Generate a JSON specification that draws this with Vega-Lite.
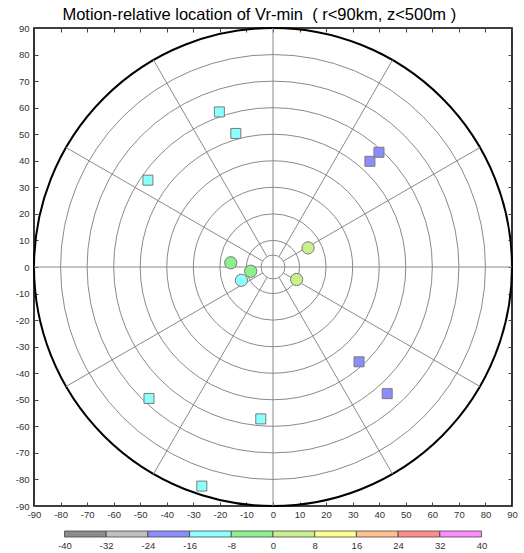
{
  "$schema": "https://vega.github.io/schema/vega-lite/v6.json",
  "padding": {"left": 14, "top": 5, "right": 0, "bottom": 0},
  "background": "white",
  "bounds": "flush",
  "center": true,
  "spacing": 25,
  "resolve": {"scale": {"x": "independent", "y": "independent", "color": "shared"}},
  "config": {
    "view": {"stroke": "black", "strokeWidth": 1.6},
    "font": "Liberation Sans",
    "axis": {
      "labelFont": "Liberation Sans",
      "labelFontSize": 9.5,
      "labelColor": "#333333",
      "tickColor": "#444444",
      "grid": false,
      "domain": false,
      "title": null,
      "labelExpr": "'' + datum.value"
    }
  },
  "vconcat": [
    {
      "width": 478,
      "height": 478,
      "title": {
        "text": "Motion-relative location of Vr-min\u00a0 ( r<90km, z<500m )",
        "font": "Liberation Sans",
        "fontSize": 16.5,
        "fontWeight": "normal",
        "color": "black",
        "anchor": "middle",
        "frame": "bounds",
        "dx": -7,
        "offset": 0
      },
      "resolve": {
        "axis": {"x": "independent", "y": "independent"},
        "scale": {"size": "independent"}
      },
      "layer": [
        {
          "data": {"values": [{"r": 4.5}, {"r": 10}, {"r": 20}, {"r": 30}, {"r": 40}, {"r": 50}, {"r": 60}, {"r": 70}, {"r": 80}]},
          "mark": {"type": "point", "shape": "circle", "filled": false, "opacity": 1, "stroke": "#8a8a8a", "strokeWidth": 1},
          "encoding": {
            "x": {"datum": 0, "type": "quantitative", "scale": {"domain": [-90, 90], "nice": false, "zero": false}, "axis": null},
            "y": {"datum": 0, "type": "quantitative", "scale": {"domain": [-90, 90], "nice": false, "zero": false}, "axis": null},
            "size": {"field": "r", "type": "quantitative", "scale": {"type": "pow", "exponent": 2, "domain": [0, 90], "range": [0, 228484], "zero": true, "nice": false}, "legend": null}
          }
        },
        {
          "data": {"values": [{"r": 90}]},
          "mark": {"type": "point", "shape": "circle", "filled": false, "opacity": 1, "stroke": "black", "strokeWidth": 2},
          "encoding": {
            "x": {"datum": 0, "type": "quantitative", "axis": null},
            "y": {"datum": 0, "type": "quantitative", "axis": null},
            "size": {"field": "r", "type": "quantitative", "scale": {"type": "pow", "exponent": 2, "domain": [0, 90], "range": [0, 228484], "zero": true, "nice": false}, "legend": null}
          }
        },
        {
          "data": {"values": [
            {"xa": -90, "ya": 0, "xb": 90, "yb": 0},
            {"xa": 0, "ya": -90, "xb": 0, "yb": 90},
            {"xa": 3.90, "ya": 2.25, "xb": 77.94, "yb": 45},
            {"xa": 2.25, "ya": 3.90, "xb": 45, "yb": 77.94},
            {"xa": -2.25, "ya": 3.90, "xb": -45, "yb": 77.94},
            {"xa": -3.90, "ya": 2.25, "xb": -77.94, "yb": 45},
            {"xa": -3.90, "ya": -2.25, "xb": -77.94, "yb": -45},
            {"xa": -2.25, "ya": -3.90, "xb": -45, "yb": -77.94},
            {"xa": 2.25, "ya": -3.90, "xb": 45, "yb": -77.94},
            {"xa": 3.90, "ya": -2.25, "xb": 77.94, "yb": -45}
          ]},
          "mark": {"type": "rule", "stroke": "#8a8a8a", "strokeWidth": 1},
          "encoding": {
            "x": {"field": "xa", "type": "quantitative",
                  "scale": {"domain": [-90, 90], "nice": false, "zero": false},
                  "axis": {"orient": "bottom", "values": [-90,-80,-70,-60,-50,-40,-30,-20,-10,0,10,20,30,40,50,60,70,80,90], "tickSize": -4, "labelPadding": 7, "labelFlush": false}},
            "x2": {"field": "xb"},
            "y": {"field": "ya", "type": "quantitative",
                  "scale": {"domain": [-90, 90], "nice": false, "zero": false},
                  "axis": {"orient": "left", "values": [-90,-80,-70,-60,-50,-40,-30,-20,-10,0,10,20,30,40,50,60,70,80,90], "tickSize": -4, "labelPadding": 9, "labelFlush": false}},
            "y2": {"field": "yb"}
          }
        },
        {
          "data": {"values": [
            {"x": -15.9, "y": 1.6, "vr": -4, "marker": "circle"},
            {"x": -8.4, "y": -1.6, "vr": -4, "marker": "circle"},
            {"x": -11.9, "y": -5.0, "vr": -12, "marker": "circle"},
            {"x": 13.2, "y": 7.2, "vr": 4, "marker": "circle"},
            {"x": 8.9, "y": -4.7, "vr": 4, "marker": "circle"},
            {"x": -20.2, "y": 58.4, "vr": -12, "marker": "square"},
            {"x": -14.0, "y": 50.3, "vr": -12, "marker": "square"},
            {"x": -47.1, "y": 32.7, "vr": -12, "marker": "square"},
            {"x": 39.9, "y": 43.2, "vr": -20, "marker": "square"},
            {"x": 36.5, "y": 39.8, "vr": -20, "marker": "square"},
            {"x": 32.4, "y": -35.7, "vr": -20, "marker": "square"},
            {"x": 43.0, "y": -47.7, "vr": -20, "marker": "square"},
            {"x": -46.7, "y": -49.5, "vr": -12, "marker": "square"},
            {"x": -4.6, "y": -57.2, "vr": -12, "marker": "square"},
            {"x": -26.8, "y": -82.5, "vr": -12, "marker": "square"}
          ]},
          "mark": {"type": "point", "filled": true, "opacity": 1, "stroke": "#7a7a7a", "strokeWidth": 1},
          "encoding": {
            "x": {"field": "x", "type": "quantitative",
                  "scale": {"domain": [-90, 90], "nice": false, "zero": false},
                  "axis": {"orient": "top", "values": [-90,-80,-70,-60,-50,-40,-30,-20,-10,0,10,20,30,40,50,60,70,80,90], "tickSize": -4, "labels": false}},
            "y": {"field": "y", "type": "quantitative",
                  "scale": {"domain": [-90, 90], "nice": false, "zero": false},
                  "axis": {"orient": "right", "values": [-90,-80,-70,-60,-50,-40,-30,-20,-10,0,10,20,30,40,50,60,70,80,90], "tickSize": -4, "labels": false}},
            "shape": {"field": "marker", "type": "nominal", "scale": {"domain": ["circle", "square"], "range": ["circle", "square"]}, "legend": null},
            "size": {"field": "marker", "type": "nominal", "scale": {"domain": ["circle", "square"], "range": [150, 100]}, "legend": null},
            "color": {"field": "vr", "type": "quantitative",
                      "scale": {"type": "threshold", "domain": [-32, -24, -16, -8, 0, 8, 16, 24, 32],
                                "range": ["#8c8c8c", "#c0c0c0", "#8c8cff", "#8cffff", "#8cf08c", "#c8f08c", "#ffff8c", "#ffc08c", "#ff8c8c", "#ff8cff"]},
                      "legend": null}
          }
        }
      ]
    },
    {
      "width": 417,
      "height": 6,
      "view": {"stroke": null},
      "data": {"values": [
        {"lo": -40, "hi": -32, "mid": -36},
        {"lo": -32, "hi": -24, "mid": -28},
        {"lo": -24, "hi": -16, "mid": -20},
        {"lo": -16, "hi": -8, "mid": -12},
        {"lo": -8, "hi": 0, "mid": -4},
        {"lo": 0, "hi": 8, "mid": 4},
        {"lo": 8, "hi": 16, "mid": 12},
        {"lo": 16, "hi": 24, "mid": 20},
        {"lo": 24, "hi": 32, "mid": 28},
        {"lo": 32, "hi": 40, "mid": 36}
      ]},
      "mark": {"type": "rect", "stroke": "#444444", "strokeWidth": 0.8},
      "encoding": {
        "x": {"field": "lo", "type": "quantitative",
              "scale": {"domain": [-40, 40], "nice": false, "zero": false},
              "axis": {"values": [-40, -32, -24, -16, -8, 0, 8, 16, 24, 32, 40], "ticks": false, "labelPadding": 3, "labelFlush": false}},
        "x2": {"field": "hi"},
        "color": {"field": "mid", "type": "quantitative",
                  "scale": {"type": "threshold", "domain": [-32, -24, -16, -8, 0, 8, 16, 24, 32],
                            "range": ["#8c8c8c", "#c0c0c0", "#8c8cff", "#8cffff", "#8cf08c", "#c8f08c", "#ffff8c", "#ffc08c", "#ff8c8c", "#ff8cff"]},
                  "legend": null}
      }
    }
  ]
}
